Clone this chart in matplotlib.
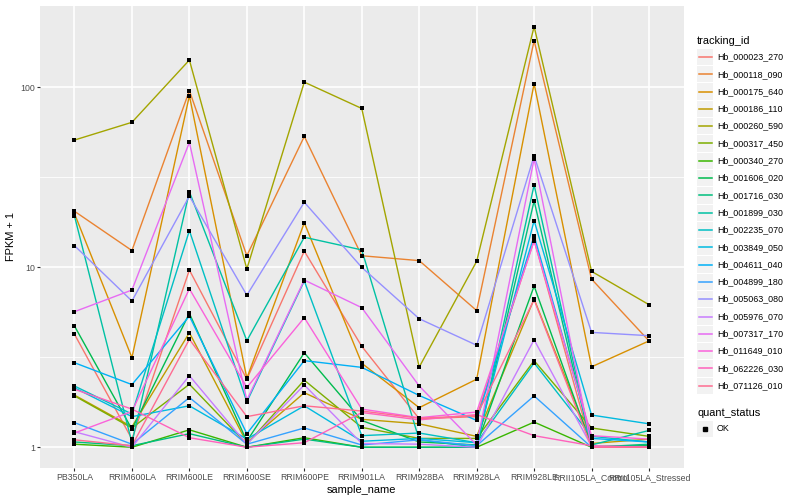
import matplotlib
matplotlib.use("Agg")
import matplotlib.pyplot as plt
from matplotlib.patches import Rectangle
from matplotlib.lines import Line2D
from matplotlib.ticker import NullFormatter
import numpy as np

plt.rcParams['font.family'] = ['Liberation Sans', 'DejaVu Sans']

# sample order on the x axis
samples = ['PB350LA', 'RRIM600LA', 'RRIM600LE', 'RRIM600SE', 'RRIM600PE',
           'RRIM901LA', 'RRIM928BA', 'RRIM928LA', 'RRIM928LE',
           'RRII105LA_Control', 'RRII105LA_Stressed']

tracking_ids = ['Hb_000023_270', 'Hb_000118_090', 'Hb_000175_640', 'Hb_000186_110',
                'Hb_000260_590', 'Hb_000317_450', 'Hb_000340_270', 'Hb_001606_020',
                'Hb_001716_030', 'Hb_001899_030', 'Hb_002235_070', 'Hb_003849_050',
                'Hb_004611_040', 'Hb_004899_180', 'Hb_005063_080', 'Hb_005976_070',
                'Hb_007317_170', 'Hb_011649_010', 'Hb_062226_030', 'Hb_071126_010']

# ggplot hue palette, 20 levels
colors = ['#F8766D', '#EA8331', '#D89000', '#C09B00', '#A3A500', '#7CAE00', '#39B600',
          '#00BB4E', '#00BF7D', '#00C1A3', '#00BFC4', '#00BAE0', '#00B0F6', '#35A2FF',
          '#9590FF', '#C77CFF', '#E76BF3', '#FA62DB', '#FF62BC', '#FF6C91']

# FPKM + 1 per sample
hb_000023_270 = [4.25, 1.11, 9.66, 2.39, 12.3, 3.64, 1.44, 1.48, 14.2, 1.0, 1.02]
hb_000118_090 = [20.5, 12.4, 96, 11.6, 53.4, 11.6, 10.9, 5.75, 182, 8.6, 3.9]
hb_000175_640 = [19.9, 3.15, 90, 2.42, 17.7, 2.93, 1.66, 2.39, 105, 2.8, 3.9]
hb_000186_110 = [1.95, 1.3, 4.33, 1.06, 2.01, 1.43, 1.35, 1.15, 6.67, 1.05, 1.11]
hb_000260_590 = [51, 64, 142, 9.8, 107, 76.4, 2.79, 10.8, 218, 9.5, 6.2]
hb_000317_450 = [1.93, 1.28, 2.24, 1.04, 2.36, 1.29, 1.12, 1.12, 3.03, 1.28, 1.15]
hb_000340_270 = [1.04, 1.0, 1.25, 1.0, 1.13, 1.0, 1.0, 1.0, 1.38, 1.0, 1.0]
hb_001606_020 = [4.72, 1.26, 5.55, 1.08, 3.35, 1.41, 1.07, 1.03, 7.87, 1.01, 1.02]
hb_001716_030 = [1.07, 1.02, 1.19, 1.0, 1.11, 1.0, 1.0, 1.0, 23.4, 1.0, 1.04]
hb_001899_030 = [19.3, 1.06, 26.3, 3.91, 14.7, 12.5, 1.1, 1.0, 28.7, 1.03, 1.24]
hb_002235_070 = [2.19, 1.53, 16, 1.79, 8.4, 1.16, 1.2, 1.06, 2.94, 1.15, 1.07]
hb_003849_050 = [2.14, 1.48, 1.7, 1.11, 1.7, 1.08, 1.12, 1.06, 18.2, 1.51, 1.35]
hb_004611_040 = [2.95, 2.23, 5.36, 1.19, 3.03, 2.78, 1.94, 1.41, 15, 1.12, 1.07]
hb_004899_180 = [1.37, 1.04, 1.89, 1.04, 1.28, 1.03, 1.1, 1.02, 1.93, 1.0, 1.0]
hb_005063_080 = [13.2, 6.5, 24.9, 7.0, 23, 10, 5.18, 3.69, 41.7, 4.35, 4.17]
hb_005976_070 = [1.22, 1.0, 2.5, 1.04, 2.22, 1.05, 1.04, 1.0, 3.96, 1.01, 1.0]
hb_007317_170 = [5.67, 7.48, 49.5, 1.83, 8.5, 5.97, 2.19, 1.03, 40.1, 1.0, 1.0]
hb_011649_010 = [1.2, 1.58, 7.6, 2.15, 5.25, 1.63, 1.46, 1.57, 14.0, 1.16, 1.11]
hb_062226_030 = [2.1, 1.63, 1.13, 1.0, 1.06, 1.56, 1.42, 1.52, 1.16, 1.02, 1.0]
hb_071126_010 = [1.1, 1.02, 3.98, 1.48, 1.7, 1.59, 1.45, 1.5, 6.6, 1.0, 1.0]

series = [hb_000023_270, hb_000118_090, hb_000175_640, hb_000186_110, hb_000260_590,
          hb_000317_450, hb_000340_270, hb_001606_020, hb_001716_030, hb_001899_030,
          hb_002235_070, hb_003849_050, hb_004611_040, hb_004899_180, hb_005063_080,
          hb_005976_070, hb_007317_170, hb_011649_010, hb_062226_030, hb_071126_010]

W, H = 800, 500
fig = plt.figure(figsize=(8, 5), dpi=100)
ax = fig.add_axes([40 / W, 1 - 468.3 / H, (683.5 - 40) / W, (468.3 - 5.5) / H])
ax.set_facecolor('#EBEBEB')

x = np.arange(len(samples))
for vals, col in zip(series, colors):
    ax.plot(x, vals, color=col, lw=1.0, zorder=3)
for vals in series:
    ax.scatter(x, vals, marker='s', s=7, color='black', linewidths=0, zorder=4)

ax.set_yscale('log')
allv = np.concatenate([np.array(v, dtype=float) for v in series])
lo, hi = np.log10(allv.min()), np.log10(allv.max())
pad = 0.05 * (hi - lo)
ax.set_ylim(10 ** (lo - pad), 10 ** (hi + pad))
ax.set_xlim(-0.6, len(samples) - 0.4)

ax.set_yticks([1, 10, 100])
ax.set_yticklabels(['1', '10', '100'])
ax.set_yticks([10 ** 0.5, 10 ** 1.5], minor=True)
ax.yaxis.set_minor_formatter(NullFormatter())
ax.set_xticks(x)
ax.set_xticklabels(samples)

ax.grid(which='major', color='white', lw=1.2)
ax.grid(which='minor', axis='y', color='white', lw=0.6)
ax.set_axisbelow(True)
for s in ax.spines.values():
    s.set_visible(False)
ax.tick_params(which='major', length=2, width=0.8, color='#333333',
               labelsize=6.3, labelcolor='#4D4D4D', pad=1.6)
ax.tick_params(which='minor', length=0)

ax.set_xlabel('sample_name', fontsize=7.9, labelpad=2)
ax.set_ylabel('FPKM + 1', fontsize=7.9, labelpad=3)

# legend drawn ggplot style on the right
def fx(px):
    return px / W

def fy(py):
    return 1 - py / H

key = 17.3
fig.text(fx(697), fy(40.7), 'tracking_id', fontsize=7.9, va='center', ha='left')
for i, (name, col) in enumerate(zip(tracking_ids, colors)):
    cy = 57 + key * i
    fig.patches.append(Rectangle((fx(697), fy(cy + key / 2 - 0.5)), key / W - 1 / W, (key - 1) / H,
                                 transform=fig.transFigure, facecolor='#F2F2F2',
                                 edgecolor='none'))
    fig.lines.append(Line2D([fx(699), fx(712)], [fy(cy), fy(cy)], color=col, lw=1.1,
                            transform=fig.transFigure))
    fig.text(fx(717), fy(cy), name, fontsize=6.4, va='center', ha='left')

fig.text(fx(697), fy(412.7), 'quant_status', fontsize=7.9, va='center', ha='left')
cy = 428.7
fig.patches.append(Rectangle((fx(697), fy(cy + key / 2 - 0.5)), key / W - 1 / W, (key - 1) / H,
                             transform=fig.transFigure, facecolor='#F2F2F2', edgecolor='none'))
fig.lines.append(Line2D([fx(705.2)], [fy(cy)], marker='s', markersize=2.6, color='black',
                        lw=0, transform=fig.transFigure))
fig.text(fx(717), fy(cy), 'OK', fontsize=6.4, va='center', ha='left')

fig.savefig('out.png', dpi=100)
